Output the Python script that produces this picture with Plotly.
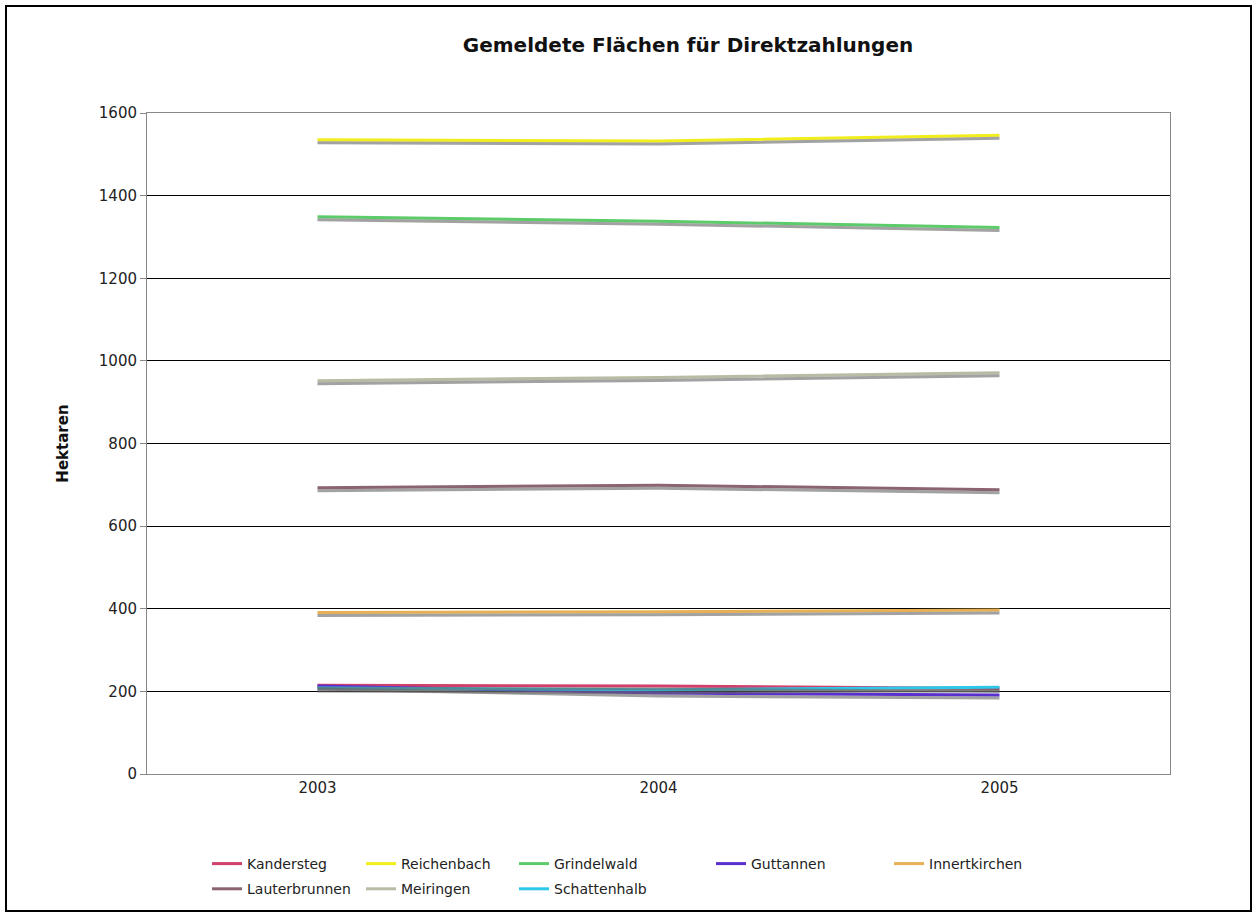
import plotly.graph_objects as go

# Reported areas eligible for direct payments, per municipality (hectares)
years = ["2003", "2004", "2005"]
kandersteg = [215, 213, 207]
reichenbach = [1535, 1532, 1546]
grindelwald = [1349, 1338, 1323]
guttannen = [213, 196, 191]
innertkirchen = [391, 393, 397]
lauterbrunnen = [693, 699, 688]
meiringen = [952, 960, 971]
schattenhalb = [208, 204, 210]

y_ticks = [0, 200, 400, 600, 800, 1000, 1200, 1400, 1600]

series = [
    ("Kandersteg", kandersteg, "#D0406A", "legend"),
    ("Reichenbach", reichenbach, "#F2EE1C", "legend2"),
    ("Grindelwald", grindelwald, "#5CCB6A", "legend3"),
    ("Guttannen", guttannen, "#5A2FD0", "legend4"),
    ("Innertkirchen", innertkirchen, "#E8B054", "legend5"),
    ("Lauterbrunnen", lauterbrunnen, "#8A6470", "legend"),
    ("Meiringen", meiringen, "#B9BBA4", "legend2"),
    ("Schattenhalb", schattenhalb, "#2EC8EA", "legend3"),
]

W, H = 1258, 917
L, R, T, B = 147, 88, 113, 143
pw, ph = W - L - R, H - T - B
YMAX = 1600
shadow_shift = 3 * YMAX / ph  # drop shadow a few pixels below each line

fig = go.Figure()

# soft drop shadows on an overlaid, slightly shifted axis
for name, vals, color, lg in series:
    fig.add_trace(go.Scatter(
        x=years, y=vals, mode="lines", yaxis="y2",
        line=dict(color="rgba(100,100,100,0.6)", width=3),
        showlegend=False, hoverinfo="skip",
    ))

for name, vals, color, lg in series:
    fig.add_trace(go.Scatter(
        x=years, y=vals, mode="lines", name=name, legendgroup=name,
        line=dict(color=color, width=3), legend=lg,
    ))

font = "DejaVu Sans, Verdana, sans-serif"

def legend_at(xpx):
    return dict(
        x=(xpx - L) / pw, y=(T + ph - 848) / ph,
        xanchor="left", yanchor="top", orientation="v",
        font=dict(family=font, size=14, color="#222"),
        bgcolor="rgba(0,0,0,0)", itemwidth=30, tracegroupgap=4,
        traceorder="grouped",
    )

fig.update_layout(
    width=W, height=H,
    margin=dict(l=L, r=R, t=T, b=B),
    paper_bgcolor="white", plot_bgcolor="white",
    font=dict(family=font, color="#222"),
    title=dict(
        text="<b>Gemeldete Flächen für Direktzahlungen</b>",
        x=(688) / W, xanchor="center", y=1 - 45 / H, yanchor="middle",
        font=dict(family=font, size=20, color="#111"),
    ),
    xaxis=dict(
        type="category", range=[-0.5, 2.5],
        showgrid=False, showline=True, linecolor="#888", linewidth=1,
        mirror=True, ticks="", tickfont=dict(size=15, color="#222"),
        zeroline=False,
    ),
    yaxis=dict(
        range=[0, YMAX], tickvals=y_ticks,
        showgrid=True, gridcolor="#000", gridwidth=1.3,
        showline=True, linecolor="#888", linewidth=1, mirror=True,
        ticks="outside", ticklen=6, tickcolor="#888",
        tickfont=dict(size=15, color="#222"),
        title=dict(text="<b>Hektaren</b>", font=dict(size=15, color="#111"), standoff=26),
        zeroline=False,
    ),
    yaxis2=dict(
        range=[shadow_shift, YMAX + shadow_shift], overlaying="y",
        visible=False,
    ),
    legend=legend_at(207),
    legend2=legend_at(361),
    legend3=legend_at(514),
    legend4=legend_at(711),
    legend5=legend_at(889),
    shapes=[dict(
        type="rect", xref="paper", yref="paper",
        x0=(6 - L) / pw, x1=(1251 - L) / pw,
        y0=(T + ph - 911) / ph, y1=(T + ph - 6) / ph,
        line=dict(color="#000", width=2), fillcolor="rgba(0,0,0,0)", layer="below",
    )],
)

fig.write_html("out.html")
